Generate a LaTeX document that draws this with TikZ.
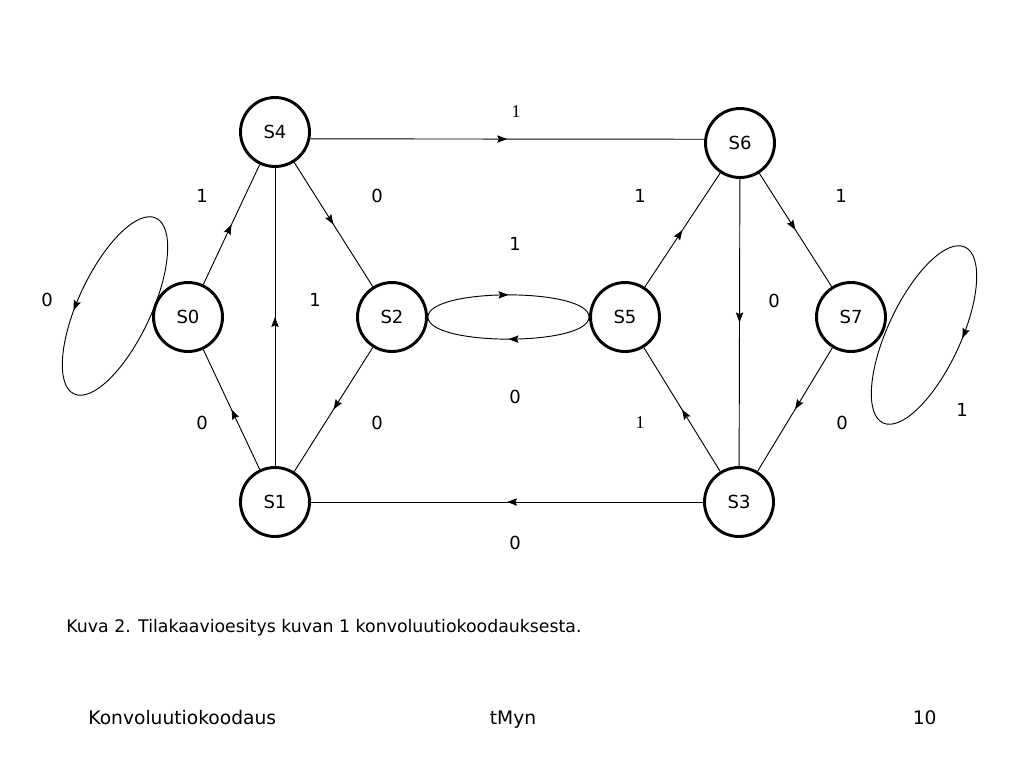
\documentclass[tikz,border=0pt]{standalone}
\usepackage{fontspec}
\setmainfont{DejaVu Sans}
\newfontfamily\serifone{Liberation Serif}
\usepackage{tikz}
\usetikzlibrary{arrows.meta, decorations.markings}

\tikzset{
  statenode/.style={circle, draw, line width=2.2pt, fill=white, minimum size=51.75pt, inner sep=0pt, font=\fontsize{13.5}{15}\selectfont},
  midarrow/.style={postaction={decorate}, decoration={markings, mark=at position 0.5 with {\arrow{>}}}},
  looparrow/.style={postaction={decorate}, decoration={markings, mark=at position #1 with {\arrow{>}}}},
  looparrowback/.style={postaction={decorate}, decoration={markings, mark=at position #1 with {\arrow{<}}}},
  bit/.style={inner sep=0pt, font=\fontsize{13.5}{15}\selectfont},
  plaintext/.style={inner sep=0pt, font=\fontsize{#1}{#1}\selectfont}
}

\begin{document}
\begin{tikzpicture}[x=0.75pt, y=-0.75pt, >={Stealth[length=7.5pt,width=5.5pt,inset=1.2pt]}, line width=0.7pt]
                \useasboundingbox (0,0) rectangle (1024,768);
                \coordinate (loopL) at (115,306);
                \coordinate (loopR) at (924,335);
                \draw[rotate=65, looparrowback=0.724] (loopL) ellipse (97 and 36.5);
                \draw[rotate=65, looparrow=0.22] (loopR) ellipse (97 and 36.5);
                \node[statenode] (S4) at (275,132) {S4};
                \node[statenode] (S0) at (188,317) {S0};
                \node[statenode] (S2) at (392,317) {S2};
                \node[statenode] (S1) at (275,502) {S1};
                \node[statenode] (S6) at (740,143) {S6};
                \node[statenode] (S5) at (625,317) {S5};
                \node[statenode] (S7) at (851,317) {S7};
                \node[statenode] (S3) at (739,502) {S3};
                \path (S4.-11) edge[midarrow] (S6.174);
                \path (S3) edge[midarrow] (S1);
                \path (S0) edge[midarrow] (S4);
                \path (S4) edge[midarrow] (S2);
                \path (S1) edge[midarrow] (S4);
                \path (S1) edge[midarrow] (S0);
                \path (S2) edge[midarrow] (S1);
                \path (S2.east) edge[midarrow, out=90, in=90, looseness=0.47] (S5.west);
                \path (S5.west) edge[midarrow, out=-90, in=-90, looseness=0.47] (S2.east);
                \path (S5) edge[midarrow] (S6);
                \path (S6) edge[midarrow] (S7);
                \path (S6) edge[midarrow] (S3);
                \path (S3) edge[midarrow] (S5);
                \path (S7) edge[midarrow] (S3);
                \node[bit] (b46) at (516,112) {\serifone 1};
                \node[bit] (b31) at (515,543) {0};
                \node[bit] (b04) at (202,196) {1};
                \node[bit] (b42) at (377,196) {0};
                \node[bit] (b14) at (315,300) {1};
                \node[bit] (b10) at (202,423) {0};
                \node[bit] (b21) at (377,423) {0};
                \node[bit] (b25) at (515,244) {1};
                \node[bit] (b52) at (515,397) {0};
                \node[bit] (b00) at (47,300) {0};
                \node[bit] (b56) at (640,196) {1};
                \node[bit] (b67) at (841,196) {1};
                \node[bit] (b63) at (774,301) {0};
                \node[bit] (b35) at (640,423) {\serifone 1};
                \node[bit] (b73) at (842,423) {0};
                \node[bit] (b77) at (962,410) {1};
                \node[plaintext=13, anchor=base west] (caption) at (66,632) {Kuva 2. Tilakaavioesitys kuvan 1 konvoluutiokoodauksesta.};
                \node[plaintext=14, anchor=base west] (footleft) at (88,724) {Konvoluutiokoodaus};
                \node[plaintext=14, anchor=base] (footmid) at (513,724) {tMyn};
                \node[plaintext=14, anchor=base east] (footright) at (937,724) {10};
            \end{tikzpicture}
\end{document}
